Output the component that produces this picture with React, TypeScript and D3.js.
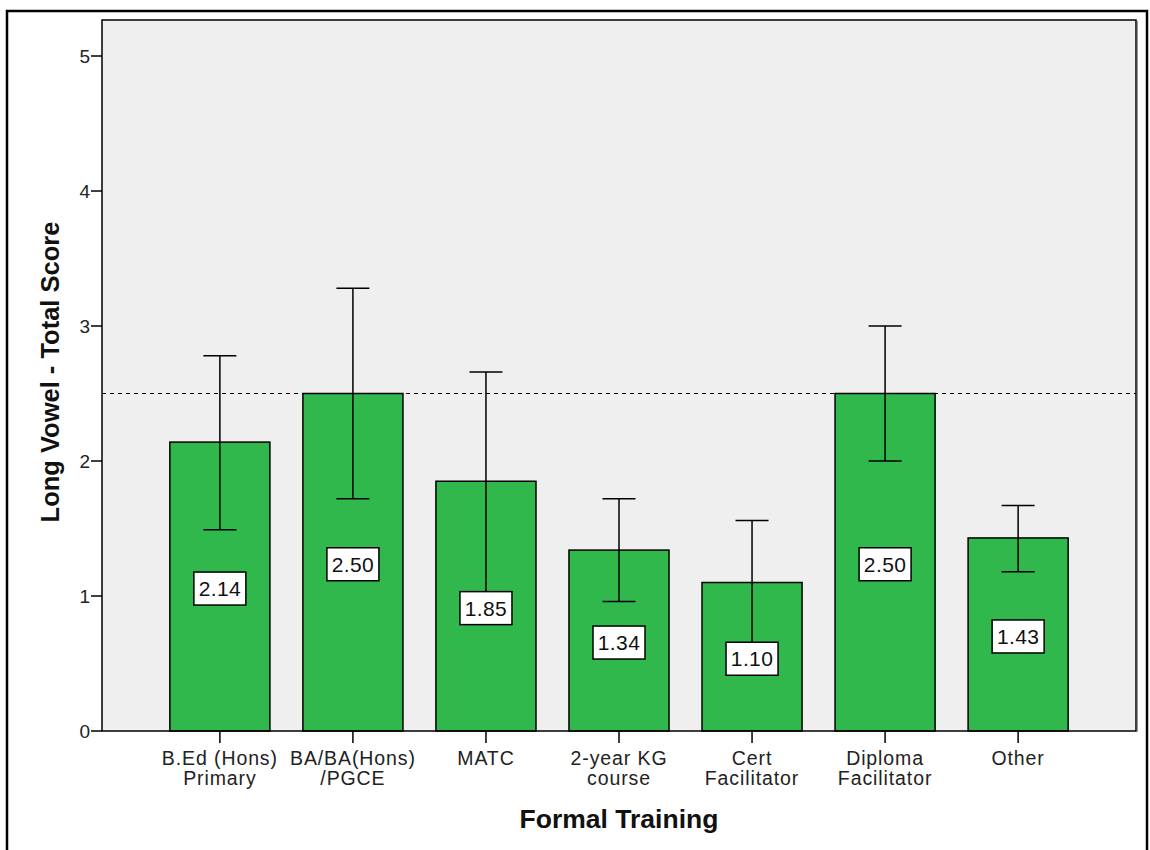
import React from "react";
import * as d3 from "d3";

const categories = [
  ["B.Ed (Hons)", "Primary"],
  ["BA/BA(Hons)", "/PGCE"],
  ["MATC"],
  ["2-year KG", "course"],
  ["Cert", "Facilitator"],
  ["Diploma", "Facilitator"],
  ["Other"],
];
const means = [2.14, 2.5, 1.85, 1.34, 1.1, 2.5, 1.43];
const upper = [2.78, 3.28, 2.66, 1.72, 1.56, 3.0, 1.67];
const lower = [1.49, 1.72, 1.03, 0.96, 0.65, 2.0, 1.18];
const yTicks = [0, 1, 2, 3, 4, 5];
const refValue = 2.5;

export default function App() {
  const W = 1150, H = 850;
  const left = 102, right = 1136, top = 20, bottom = 731;
  const keys = categories.map((c) => c.join(" "));
  const x = d3.scaleBand().domain(keys).range([left, right]).paddingInner(0.248).paddingOuter(0.51);
  const y = d3.scaleLinear().domain([0, 5]).range([bottom, 56]);
  const bw = x.bandwidth();
  const font = "'Liberation Sans', Arial, sans-serif";
  return (
    <svg width={W} height={H} style={{ position: "absolute", left: 0, top: 0, background: "#fff" }} fontFamily={font}>
      <rect x={7} y={11} width={1140} height={860} fill="#fff" stroke="#000" strokeWidth={2.5} />
      <rect x={left} y={top} width={right - left} height={bottom - top} fill="#efefef" />
      <line x1={right + 1.5} y1={top + 1} x2={right + 1.5} y2={bottom + 1} stroke="#999" strokeWidth={1} />
      {/* reference line */}
      <line x1={left} x2={right} y1={y(refValue)} y2={y(refValue)} stroke="#000" strokeWidth={1.2} strokeDasharray="4,4" />
      {means.map((m, i) => {
        const cx = x(keys[i])! + bw / 2;
        return (
          <g key={i}>
            <rect x={x(keys[i])!} y={y(m)} width={bw} height={bottom - y(m)} fill="#30b84c" stroke="#000" strokeWidth={1.5} />
            <line x1={cx} x2={cx} y1={y(upper[i])} y2={y(lower[i])} stroke="#000" strokeWidth={1.5} />
            <line x1={cx - 16.5} x2={cx + 16.5} y1={y(upper[i])} y2={y(upper[i])} stroke="#000" strokeWidth={1.5} />
            <line x1={cx - 16.5} x2={cx + 16.5} y1={y(lower[i])} y2={y(lower[i])} stroke="#000" strokeWidth={1.5} />
          </g>
        );
      })}
      {means.map((m, i) => {
        const cx = x(keys[i])! + bw / 2;
        const cy = y(m / 2) + 2;
        return (
          <g key={"l" + i}>
            <rect x={cx - 26} y={cy - 16.5} width={52} height={33} fill="#fff" stroke="#000" strokeWidth={1.5} />
            <text x={cx} y={cy + 7.5} textAnchor="middle" fontSize={21} fill="#111" letterSpacing={0.4}>{m.toFixed(2)}</text>
          </g>
        );
      })}
      {/* plot frame */}
      <rect x={left} y={top} width={right - left} height={bottom - top} fill="none" stroke="#000" strokeWidth={1.5} />
      {/* y axis ticks */}
      {yTicks.map((t) => (
        <g key={t}>
          <line x1={left - 11} x2={left} y1={y(t)} y2={y(t)} stroke="#000" strokeWidth={1.5} />
          <text x={left - 12} y={y(t) + 7} textAnchor="end" fontSize={19} fill="#222">{t}</text>
        </g>
      ))}
      {/* x axis ticks */}
      {keys.map((k, i) => {
        const cx = x(k)! + bw / 2;
        return (
          <g key={k}>
            <line x1={cx} x2={cx} y1={bottom} y2={bottom + 12} stroke="#000" strokeWidth={1.5} />
            {categories[i].map((ln, j) => (
              <text key={j} x={cx} y={765 + j * 20} textAnchor="middle" fontSize={19.5} fill="#222" letterSpacing={0.9}>{ln}</text>
            ))}
          </g>
        );
      })}
      <text x={(left + right) / 2} y={828} textAnchor="middle" fontSize={26.5} fontWeight="bold" fill="#111">Formal Training</text>
      <text transform={`translate(59, 372) rotate(-90)`} textAnchor="middle" fontSize={25.5} fontWeight="bold" fill="#111">Long Vowel - Total Score</text>
    </svg>
  );
}
